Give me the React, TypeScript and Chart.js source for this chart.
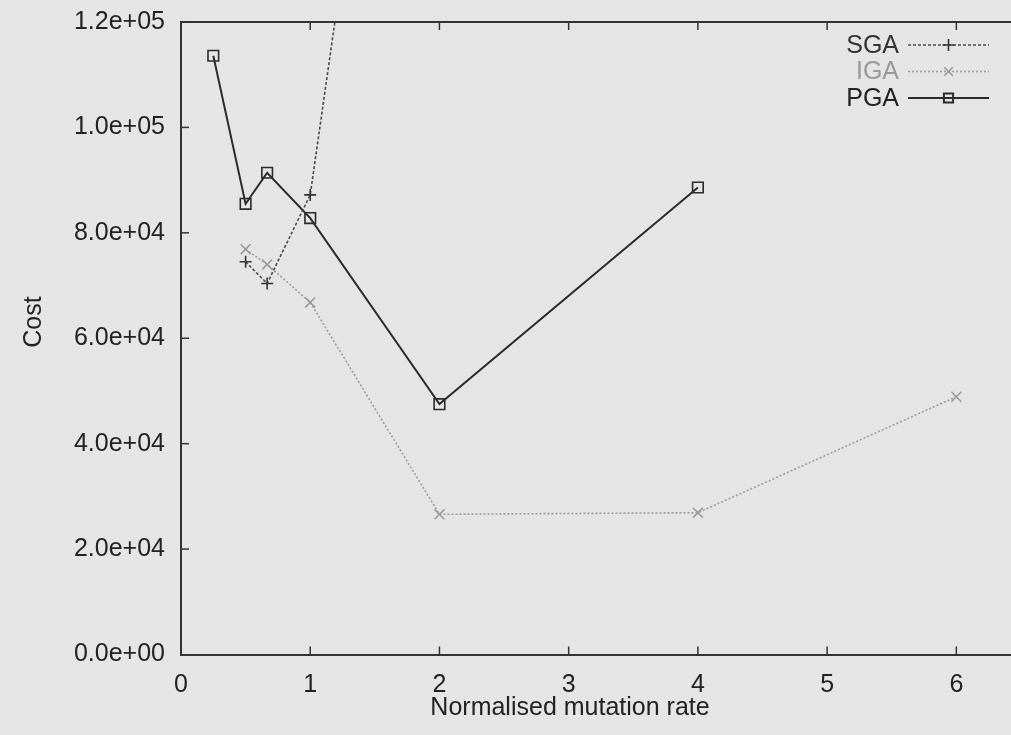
import React, { useEffect, useRef } from "react";
import { Chart, registerables } from "chart.js";

Chart.register(...registerables);

// ---- data ----
const seriesNames = ["SGA", "IGA", "PGA"];
const sgaX = [0.5, 2 / 3, 1, 2];
const sgaY = [74500, 70400, 87200, 259000];
const igaX = [0.5, 2 / 3, 1, 2, 4, 6];
const igaY = [76900, 74000, 66800, 26600, 26900, 48900];
const pgaX = [0.25, 0.5, 2 / 3, 1, 2, 4];
const pgaY = [113600, 85500, 91400, 82800, 47500, 88600];
const xTicks = [0, 1, 2, 3, 4, 5, 6];
const yTicks = [0, 20000, 40000, 60000, 80000, 100000, 120000];
const xTitle = "Normalised mutation rate";
const yTitle = "Cost";

const FONT = "'Liberation Sans', Arial, Helvetica, sans-serif";
const BG = "#e5e5e5";

const fmtExp = (v: number) => {
  const [m, e] = v.toExponential(1).split("e");
  return `${m}e${e[0]}${e.slice(1).padStart(2, "0")}`;
};

const toPts = (xs: number[], ys: number[]) => xs.map((x, i) => ({ x, y: ys[i] }));

const styles = [
  { color: "#4a4a4a", mColor: "#333333", dash: [3, 2], width: 1.6, style: "cross", radius: 6, text: "#333333" },
  { color: "#9c9c9c", mColor: "#9a9a9a", dash: [2, 2], width: 1.6, style: "crossRot", radius: 7, text: "#9a9a9a" },
  { color: "#2b2b2b", mColor: "#2b2b2b", dash: [], width: 2, style: "rect", radius: 7.5, text: "#222222" },
];

function drawMarker(ctx: CanvasRenderingContext2D, style: string, x: number, y: number, r: number) {
  ctx.beginPath();
  if (style === "cross") {
    ctx.moveTo(x - r, y); ctx.lineTo(x + r, y);
    ctx.moveTo(x, y - r); ctx.lineTo(x, y + r);
  } else if (style === "crossRot") {
    const d = r * Math.SQRT1_2;
    ctx.moveTo(x - d, y - d); ctx.lineTo(x + d, y + d);
    ctx.moveTo(x - d, y + d); ctx.lineTo(x + d, y - d);
  } else {
    const s = r * Math.SQRT1_2;
    ctx.rect(x - s, y - s, 2 * s, 2 * s);
  }
  ctx.stroke();
}

const decorPlugin = {
  id: "decor",
  beforeDraw(chart: any) {
    const ctx = chart.ctx;
    ctx.save();
    ctx.fillStyle = BG;
    ctx.fillRect(0, 0, chart.width, chart.height);
    ctx.restore();
  },
  afterDatasetsDraw(chart: any) {
    const ctx = chart.ctx;
    const { left, right, top, bottom } = chart.chartArea;
    const xs = chart.scales.x;
    const ys = chart.scales.y;
    ctx.save();
    ctx.strokeStyle = "#333333";
    ctx.lineWidth = 2;
    // top frame line
    ctx.beginPath();
    ctx.moveTo(left, top);
    ctx.lineTo(right, top);
    ctx.stroke();
    // inward ticks
    ctx.lineWidth = 1.5;
    const tl = 8;
    xTicks.forEach((v) => {
      if (v === 0) return;
      const px = xs.getPixelForValue(v);
      ctx.beginPath();
      ctx.moveTo(px, bottom); ctx.lineTo(px, bottom - tl);
      ctx.moveTo(px, top); ctx.lineTo(px, top + tl);
      ctx.stroke();
    });
    yTicks.forEach((v) => {
      if (v === 0) return;
      const py = ys.getPixelForValue(v);
      ctx.beginPath();
      ctx.moveTo(left, py); ctx.lineTo(left + tl, py);
      ctx.stroke();
    });
    ctx.restore();
  },
  afterDraw(chart: any) {
    const ctx = chart.ctx;
    const { top } = chart.chartArea;
    const right = 1011;
    ctx.save();
    // axis titles
    ctx.fillStyle = "#222222";
    ctx.font = `25px ${FONT}`;
    ctx.textAlign = "center";
    ctx.textBaseline = "middle";
    ctx.fillText(xTitle, 570, 708);
    ctx.save();
    ctx.translate(34, 322);
    ctx.rotate(-Math.PI / 2);
    ctx.fillText(yTitle, 0, 0);
    ctx.restore();
    // legend
    const textRight = right - 112;
    const lineStart = right - 103;
    const lineEnd = right - 22;
    seriesNames.forEach((name, i) => {
      const st = styles[i];
      const y = top + 23 + i * 26.5;
      ctx.font = `25px ${FONT}`;
      ctx.textAlign = "right";
      ctx.textBaseline = "middle";
      ctx.fillStyle = st.text;
      ctx.fillText(name, textRight, y + 1);
      ctx.strokeStyle = st.color;
      ctx.lineWidth = st.width;
      ctx.setLineDash(st.dash);
      ctx.beginPath();
      ctx.moveTo(lineStart, y);
      ctx.lineTo(lineEnd, y);
      ctx.stroke();
      ctx.setLineDash([]);
      ctx.strokeStyle = st.mColor;
      drawMarker(ctx, st.style, (lineStart + lineEnd) / 2, y, st.style === "rect" ? 6.5 : 6);
    });
    ctx.restore();
  },
};

export default function App() {
  const ref = useRef<HTMLCanvasElement | null>(null);

  useEffect(() => {
    if (!ref.current) return;
    const xsArr = [sgaX, igaX, pgaX];
    const ysArr = [sgaY, igaY, pgaY];
    const chart = new Chart(ref.current, {
      type: "line",
      data: {
        datasets: seriesNames.map((name, i) => ({
          label: name,
          data: toPts(xsArr[i], ysArr[i]),
          borderColor: styles[i].color,
          borderWidth: styles[i].width,
          borderDash: styles[i].dash,
          pointStyle: styles[i].style as any,
          pointRadius: styles[i].radius,
          pointBorderColor: styles[i].mColor,
          pointBackgroundColor: "rgba(0,0,0,0)",
          pointBorderWidth: 1.6,
          fill: false,
          tension: 0,
        })),
      },
      options: {
        animation: false,
        responsive: false,
        devicePixelRatio: 1,
        events: [],
        layout: { padding: { top: 22, left: 0, right: 0, bottom: 0 } },
        plugins: {
          legend: { display: false },
          tooltip: { enabled: false },
          title: { display: false },
        },
        scales: {
          x: {
            type: "linear",
            min: 0,
            max: 6.43,
            afterBuildTicks: (s: any) => {
              s.ticks = xTicks.map((v) => ({ value: v }));
            },
            afterFit: (s: any) => {
              s.height = 80.5;
              s.paddingLeft = 0;
              s.paddingRight = 0;
            },
            grid: { display: false, drawTicks: false },
            border: { display: true, color: "#333333", width: 2 },
            ticks: {
              font: { family: FONT, size: 25 },
              color: "#222222",
              padding: 16,
              maxRotation: 0,
              callback: (v: any) => String(v),
            },
          },
          y: {
            type: "linear",
            min: 0,
            max: 120000,
            afterBuildTicks: (s: any) => {
              s.ticks = yTicks.map((v) => ({ value: v }));
            },
            afterFit: (s: any) => {
              s.width = 181;
              s.paddingTop = 0;
              s.paddingBottom = 0;
            },
            grid: { display: false, drawTicks: false },
            border: { display: true, color: "#333333", width: 2 },
            ticks: {
              font: { family: FONT, size: 25 },
              color: "#222222",
              padding: 16,
              callback: (v: any) => fmtExp(Number(v)),
            },
          },
        },
      },
      plugins: [decorPlugin],
    });
    return () => chart.destroy();
  }, []);

  return (
    <div style={{ position: "fixed", left: 0, top: 0, width: 1011, height: 735, background: BG, overflow: "hidden" }}>
      <canvas ref={ref} width={1021} height={735} style={{ display: "block" }} />
    </div>
  );
}
